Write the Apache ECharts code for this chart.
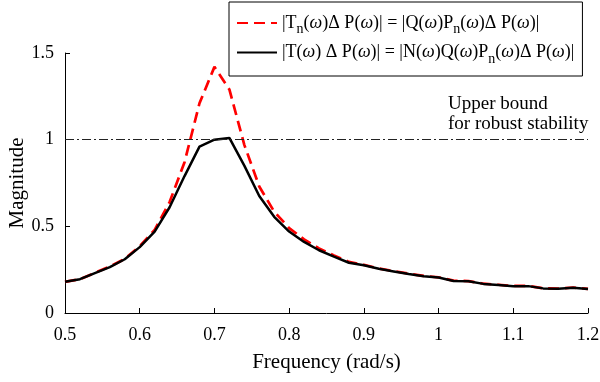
<!DOCTYPE html>
<html><head><meta charset="utf-8">
<script src="https://cdn.jsdelivr.net/npm/echarts@6/dist/echarts.min.js"></script>
<style>html,body{margin:0;padding:0;background:#fff}#c{width:600px;height:382px}</style>
</head><body><div id="c"></div>
<script>
const freq = [0.50,0.52,0.54,0.56,0.58,0.60,0.62,0.64,0.66,0.68,0.70,0.72,0.74,0.76,0.78,0.80,0.82,0.84,0.86,0.88,0.90,0.92,0.94,0.96,0.98,1.00,1.02,1.04,1.06,1.08,1.10,1.12,1.14,1.16,1.18,1.20];
const nominal = [0.18,0.195,0.232,0.268,0.312,0.385,0.48,0.64,0.87,1.21,1.42,1.29,0.97,0.73,0.585,0.49,0.425,0.372,0.332,0.295,0.278,0.257,0.242,0.227,0.214,0.206,0.187,0.184,0.169,0.163,0.156,0.156,0.143,0.141,0.147,0.139];
const robust = [0.18,0.195,0.23,0.265,0.31,0.38,0.47,0.61,0.79,0.96,1.0,1.01,0.85,0.675,0.555,0.47,0.41,0.362,0.325,0.29,0.275,0.255,0.24,0.225,0.212,0.205,0.185,0.183,0.168,0.162,0.155,0.155,0.142,0.14,0.146,0.138];
const bound = 1;
const xTicks = ['0.5','0.6','0.7','0.8','0.9','1','1.1','1.2'];
const yTicks = ['0','0.5','1','1.5'];
const boundLabel = 'Upper bound\nfor robust stability';

const FONT = '"Liberation Serif", "DejaVu Serif", serif';
const chart = echarts.init(document.getElementById('c'));
const legendNames = ['nominal','robust'];
const legendRich = {
  t: {fontFamily: FONT, fontSize: 18, color: '#000'},
  w: {fontFamily: FONT, fontSize: 18, fontStyle: 'italic', color: '#000'},
  s: {fontFamily: FONT, fontSize: 14, color: '#000', padding: [13,0,0,0]}
};
const legendText = {
  nominal: '{t||T}{s|n}{t|(}{w|ω}{t|)Δ P(}{w|ω}{t|)| = |Q(}{w|ω}{t|)P}{s|n}{t|(}{w|ω}{t|)Δ P(}{w|ω}{t|)|}',
  robust: '{t||T(}{w|ω}{t|) Δ P(}{w|ω}{t|)| = |N(}{w|ω}{t|)Q(}{w|ω}{t|)P}{s|n}{t|(}{w|ω}{t|)Δ P(}{w|ω}{t|)|}'
};
chart.setOption({
  animation: false,
  backgroundColor: '#fff',
  grid: {left: 65, right: 12, top: 53, bottom: 69, containLabel: false, outerBoundsMode: 'none'},
  legend: {
    data: legendNames,
    orient: 'vertical',
    left: 229, top: 2,
    padding: [12, 8, 10, 7],
    itemGap: 7,
    itemWidth: 40, itemHeight: 14,
    borderColor: '#000', borderWidth: 1, backgroundColor: '#fff',
    itemStyle: {opacity: 0},
    formatter: n => legendText[n],
    textStyle: {rich: legendRich, fontFamily: FONT, fontSize: 18, color: '#000'}
  },
  xAxis: {
    type: 'value', min: 0.5, max: 1.2, interval: 0.1,
    name: 'Frequency (rad/s)', nameLocation: 'middle', nameGap: 39, nameMoveOverlap: false,
    nameTextStyle: {fontFamily: FONT, fontSize: 21, color: '#000'},
    axisLine: {lineStyle: {color: '#000', width: 1}},
    axisTick: {inside: true, length: 5, lineStyle: {color: '#000'}},
    axisLabel: {fontFamily: FONT, fontSize: 18, color: '#000', margin: 13,
      formatter: v => xTicks[Math.round((v - 0.5) / 0.1)]},
    splitLine: {show: false}
  },
  yAxis: {
    type: 'value', min: 0, max: 1.5, interval: 0.5,
    name: 'Magnitude', nameLocation: 'middle', nameGap: 37, nameMoveOverlap: false,
    nameTextStyle: {fontFamily: FONT, fontSize: 21, color: '#000'},
    axisLine: {show: true, lineStyle: {color: '#000', width: 1}},
    axisTick: {show: true, inside: true, length: 5, lineStyle: {color: '#000'}},
    axisLabel: {fontFamily: FONT, fontSize: 18, color: '#000', margin: 11,
      formatter: v => yTicks[Math.round(v / 0.5)]},
    splitLine: {show: false}
  },
  graphic: [{
    type: 'text', left: 448, top: 94,
    style: {text: boundLabel, font: '19px ' + FONT, fill: '#000', lineHeight: 20}
  }],
  series: [
    {
      name: 'robust', type: 'line', symbol: 'none', z: 3,
      data: freq.map((f, i) => [f, robust[i]]),
      lineStyle: {color: '#000', width: 2.5}, itemStyle: {color: '#000'},
      markLine: {
        silent: true, symbol: 'none', label: {show: false},
        lineStyle: {color: '#222', width: 1, type: [9, 3, 2, 3]},
        data: [{yAxis: bound}]
      }
    },
    {
      name: 'nominal', type: 'line', symbol: 'none', z: 2,
      data: freq.map((f, i) => [f, nominal[i]]),
      lineStyle: {color: '#ff0000', width: 2.7, type: [11, 6]}, itemStyle: {color: '#ff0000'}
    }
  ]
});
</script></body></html>
